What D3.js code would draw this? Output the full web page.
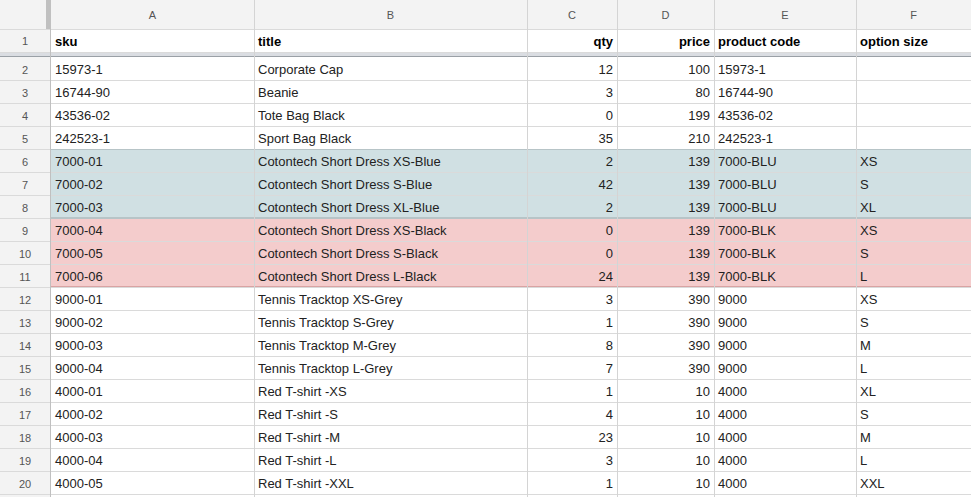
<!DOCTYPE html>
<html><head><meta charset="utf-8">
<script src="https://cdn.jsdelivr.net/npm/d3@7"></script>
<style>body{margin:0;background:#fff;overflow:hidden}text{font-family:"Liberation Sans",Arial,sans-serif}</style>
</head><body><svg id="sheet" width="971" height="497"></svg>
<script>
// column letters, headers, and the rows of the sheet
var colLetters = ['A','B','C','D','E','F'];
var headers = ['sku','title','qty','price','product code','option size'];
var skus = ['15973-1','16744-90','43536-02','242523-1','7000-01','7000-02','7000-03','7000-04','7000-05','7000-06','9000-01','9000-02','9000-03','9000-04','4000-01','4000-02','4000-03','4000-04','4000-05'];
var titles = ['Corporate Cap','Beanie','Tote Bag Black','Sport Bag Black','Cotontech Short Dress XS-Blue','Cotontech Short Dress S-Blue','Cotontech Short Dress XL-Blue','Cotontech Short Dress XS-Black','Cotontech Short Dress S-Black','Cotontech Short Dress L-Black','Tennis Tracktop XS-Grey','Tennis Tracktop S-Grey','Tennis Tracktop M-Grey','Tennis Tracktop L-Grey','Red T-shirt -XS','Red T-shirt -S','Red T-shirt -M','Red T-shirt -L','Red T-shirt -XXL'];
var qty = [12,3,0,35,2,42,2,0,0,24,3,1,8,7,1,4,23,3,1];
var price = [100,80,199,210,139,139,139,139,139,139,390,390,390,390,10,10,10,10,10];
var productCodes = ['15973-1','16744-90','43536-02','242523-1','7000-BLU','7000-BLU','7000-BLU','7000-BLK','7000-BLK','7000-BLK','9000','9000','9000','9000','4000','4000','4000','4000','4000'];
var optionSizes = ['','','','','XS','S','XL','XS','S','L','XS','S','M','L','XL','S','M','L','XXL'];
var groupOf = ['','','','','blu','blu','blu','blk','blk','blk','','','','','','','','',''];

(function() {
  var svg = d3.select('#sheet');
  var colEdges = [51,254,527,617,714,856,980];
  var numeric = [false,false,true,true,false,false];
  var fills = {blu:'#d0e0e3', blk:'#f4cccc'};
  var rowNums = d3.range(2, 2 + skus.length);
  var y = d3.scaleBand().domain(rowNums).range([57, 57 + 23 * skus.length]);
  var grid = '#e2e2e2';

  var rows = rowNums.map(function(n, i) {
    return {n:n, g:groupOf[i], cells:[skus[i], titles[i], qty[i], price[i], productCodes[i], optionSizes[i]]};
  });

  // top header bar
  svg.append('rect').attr('x',0).attr('y',0).attr('width',971).attr('height',29).attr('fill','#f3f3f3');
  svg.append('rect').attr('x',0).attr('y',0).attr('width',51).attr('height',497).attr('fill','#f3f3f3');

  // row fills
  rows.forEach(function(r) {
    if (r.g) svg.append('rect').attr('x',51).attr('y',y(r.n)).attr('width',920).attr('height',y.bandwidth()).attr('fill',fills[r.g]);
  });

  // frozen divider
  svg.append('rect').attr('x',0).attr('y',52).attr('width',971).attr('height',4).attr('fill','#dadde2');
  svg.append('line').attr('x1',0).attr('x2',971).attr('y1',56.5).attr('y2',56.5).attr('stroke','#9aa0a6');

  // horizontal grid
  var hy = [29, 52].concat(rowNums.map(function(n){return y(n)+y.bandwidth();}));
  hy.forEach(function(v) {
    svg.append('line').attr('x1',0).attr('x2',971).attr('y1',v+0.5).attr('y2',v+0.5).attr('stroke','#dadada');
  });
  // group borders
  rows.forEach(function(r, i) {
    if (r.g && (i === 0 || rows[i-1].g !== r.g)) {
      svg.append('line').attr('x1',51).attr('x2',971).attr('y1',y(r.n)+0.5).attr('y2',y(r.n)+0.5).attr('stroke','#b7c4c7');
    }
    if (r.g && (i === rows.length-1 || rows[i+1].g !== r.g)) {
      svg.append('line').attr('x1',51).attr('x2',971).attr('y1',y(r.n)+y.bandwidth()-0.5).attr('y2',y(r.n)+y.bandwidth()-0.5).attr('stroke', r.g==='blk'?'#d9a3a3':'#b7c4c7');
    }
  });

  // vertical grid
  colEdges.slice(1).forEach(function(x) {
    svg.append('line').attr('x1',x+0.5).attr('x2',x+0.5).attr('y1',0).attr('y2',497).attr('stroke','#d4d4d4');
  });
  svg.append('rect').attr('x',46).attr('y',0).attr('width',5).attr('height',29).attr('fill','#c0c0c0');
  svg.append('line').attr('x1',50.5).attr('x2',50.5).attr('y1',0).attr('y2',497).attr('stroke','#c0c0c0');

  // column letters
  colLetters.forEach(function(c, j) {
    svg.append('text').attr('x',(colEdges[j]+colEdges[j+1]-(j===5?9:0))/2).attr('y',19).attr('text-anchor','middle')
      .attr('font-size',11).attr('fill','#555').text(c);
  });

  // header row 1
  svg.append('text').attr('x',25).attr('y',45).attr('text-anchor','middle').attr('font-size',11).attr('fill','#555').text('1');
  headers.forEach(function(h, j) {
    svg.append('text').attr('x', numeric[j] ? colEdges[j+1]-4 : colEdges[j]+4).attr('y',46)
      .attr('text-anchor', numeric[j] ? 'end' : 'start').attr('font-size',13).attr('font-weight','bold').attr('fill','#000').text(h);
  });

  // data rows
  var g = svg.selectAll('g.row').data(rows).enter().append('g').attr('class','row')
    .attr('transform', function(r){ return 'translate(0,' + (y(r.n) + y.bandwidth()/2 + 5) + ')'; });
  g.append('text').attr('x',25).attr('text-anchor','middle').attr('font-size',11).attr('fill','#555').text(function(r){return r.n;});
  headers.forEach(function(h, j) {
    g.append('text').attr('x', numeric[j] ? colEdges[j+1]-4 : colEdges[j]+4)
      .attr('text-anchor', numeric[j] ? 'end' : 'start').attr('font-size',13).attr('fill','#222')
      .text(function(r){ return r.cells[j]; });
  });
})();
</script></body></html>
